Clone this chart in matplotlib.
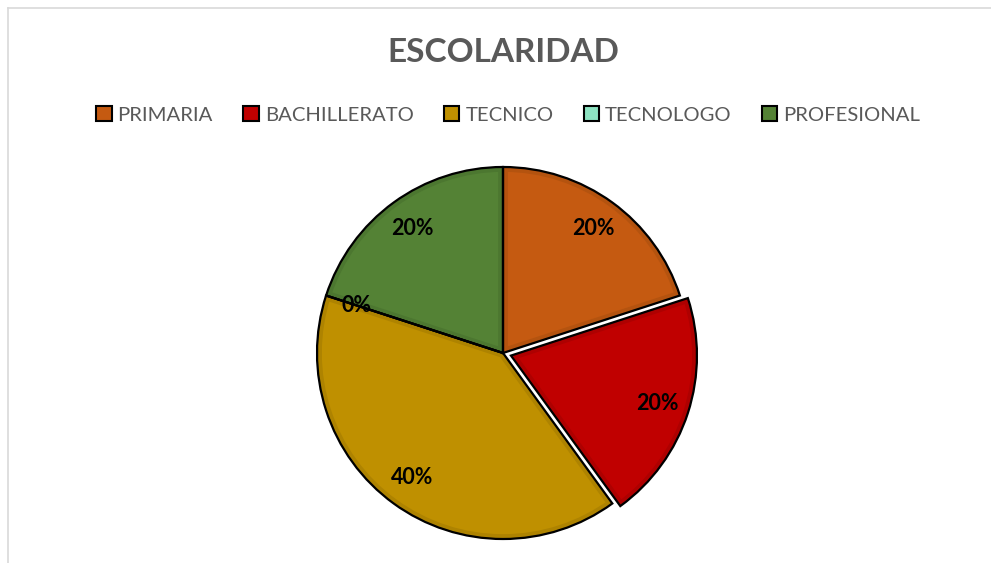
import matplotlib

matplotlib.use("Agg")

import matplotlib.pyplot as plt
from matplotlib.lines import Line2D
from matplotlib.patches import Patch, Wedge

categories = ["PRIMARIA", "BACHILLERATO", "TECNICO", "TECNOLOGO", "PROFESIONAL"]
shares = [20, 20, 40, 0, 20]
colors = ["#C55A11", "#C00000", "#BF9000", "#8EE3C2", "#548235"]
inner_edges = ["#B4530F", "#AE0000", "#AE8300", "#80D0B0", "#4C7730"]
explode = [0, 0.045, 0, 0, 0]

plt.rcParams["font.family"] = ["Lato", "DejaVu Sans"]

W, H = 991, 563
fig = plt.figure(figsize=(W / 100, H / 100), dpi=100)

# chart frame (only top and left edges visible in the reference)
fig.add_artist(Line2D([8 / W, 1], [1 - 7.5 / H] * 2, color="#D9D9D9", lw=1.2))
fig.add_artist(Line2D([8 / W] * 2, [0, 1 - 7.5 / H], color="#D9D9D9", lw=1.2))

cx, cy, r = 503, 353, 186
half = 1.1 * r
ax = fig.add_axes([(cx - half) / W, (H - cy - half) / H, 2 * half / W, 2 * half / H])

wedges, _ = ax.pie(shares, colors=colors, startangle=90, counterclock=False,
                   explode=explode, wedgeprops=dict(linewidth=0))
# darker inner band, clipped to a copy of each wedge
for w, ec in zip(wedges, inner_edges):
    clip = Wedge(w.center, w.r, w.theta1, w.theta2, transform=ax.transData)
    w.set_edgecolor(ec)
    w.set_linewidth(7)
    w.set_clip_on(True)
    w.set_clip_path(clip)

outline, _, texts = ax.pie(shares, colors=["none"] * 5, startangle=90,
                           counterclock=False, explode=explode,
                           autopct="%1.0f%%", pctdistance=0.83,
                           wedgeprops=dict(edgecolor="black", linewidth=1.6))
for t in texts:
    t.set_fontsize(15.5)
    t.set_fontweight("bold")
    t.set_color("black")

ax.set_xlim(-1.1, 1.1)
ax.set_ylim(-1.1, 1.1)
ax.set_aspect("equal")
ax.axis("off")

fig.text(0.508, 1 - 53 / H, "ESCOLARIDAD", ha="center", va="center",
         fontsize=24, fontweight="bold", color="#595959")

handles = [Patch(facecolor=c, edgecolor="black", linewidth=1.5) for c in colors]
fig.legend(handles, categories, loc="center", bbox_to_anchor=(0.513, 1 - 115 / H),
           ncol=5, frameon=False, fontsize=14.6, labelcolor="#595959",
           handlelength=0.75, handleheight=0.75, handletextpad=0.3,
           columnspacing=1.5)

fig.savefig("out.png", dpi=100)
